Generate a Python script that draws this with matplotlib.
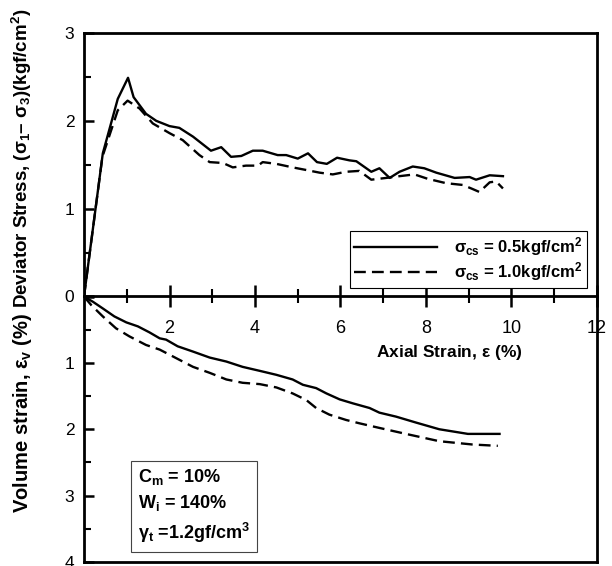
import matplotlib
matplotlib.use("Agg")
import matplotlib.pyplot as plt
import numpy as np

plt.rcParams['font.family'] = ['Liberation Sans', 'DejaVu Sans']
plt.rcParams['mathtext.fontset'] = 'custom'
plt.rcParams['mathtext.rm'] = 'Liberation Sans:bold'
plt.rcParams['mathtext.it'] = 'Liberation Sans:bold'
plt.rcParams['mathtext.bf'] = 'Liberation Sans:bold'
plt.rcParams['mathtext.sf'] = 'Liberation Sans:bold'

# ---- data: deviator stress (kgf/cm2) vs axial strain (%) ----
dev_x_05 = [0.0, 0.44, 0.79, 1.03, 1.16, 1.45, 1.69, 2.0, 2.23, 2.55, 2.97, 3.21, 3.44, 3.68,
            3.95, 4.18, 4.53, 4.73, 5.0, 5.24, 5.45, 5.68, 5.92, 6.21, 6.37, 6.72, 6.91, 7.15,
            7.38, 7.69, 7.96, 8.24, 8.67, 9.02, 9.17, 9.49, 9.80]
dev_y_05 = [0.0, 1.63, 2.25, 2.49, 2.27, 2.08, 2.00, 1.94, 1.92, 1.82, 1.66, 1.70, 1.59, 1.60,
            1.66, 1.66, 1.61, 1.61, 1.57, 1.63, 1.53, 1.51, 1.58, 1.55, 1.54, 1.42, 1.46, 1.35,
            1.42, 1.48, 1.46, 1.41, 1.35, 1.36, 1.33, 1.38, 1.37]

dev_x_10 = [0.0, 0.43, 0.79, 1.02, 1.30, 1.61, 2.0, 2.31, 2.70, 2.94, 3.25, 3.48, 3.79, 4.07,
            4.18, 4.50, 4.88, 5.20, 5.51, 5.82, 6.13, 6.44, 6.72, 7.07, 7.38, 7.73, 8.04, 8.47,
            8.86, 9.06, 9.25, 9.49, 9.64, 9.80]
dev_y_10 = [0.0, 1.59, 2.12, 2.23, 2.14, 1.97, 1.86, 1.78, 1.61, 1.53, 1.52, 1.47, 1.49, 1.49,
            1.53, 1.51, 1.47, 1.44, 1.41, 1.39, 1.42, 1.43, 1.33, 1.35, 1.37, 1.39, 1.34, 1.29,
            1.27, 1.23, 1.19, 1.30, 1.31, 1.23]

# ---- data: volume strain (%) vs axial strain (%) ----
vol_x_05 = [0.0, 0.21, 0.44, 0.71, 0.99, 1.26, 1.53, 1.77, 1.92, 2.19, 2.55, 2.94, 3.33, 3.71,
            4.11, 4.50, 4.88, 5.12, 5.43, 5.67, 5.98, 6.29, 6.68, 6.91, 7.30, 7.77, 8.31, 8.98, 9.72]
vol_y_05 = [0.0, 0.08, 0.18, 0.30, 0.39, 0.45, 0.54, 0.63, 0.65, 0.75, 0.83, 0.92, 0.98, 1.06,
            1.12, 1.18, 1.25, 1.33, 1.38, 1.46, 1.55, 1.61, 1.68, 1.75, 1.81, 1.90, 2.00, 2.07, 2.07]

vol_x_10 = [0.0, 0.17, 0.44, 0.75, 1.06, 1.45, 1.77, 2.16, 2.55, 2.94, 3.33, 3.71, 4.11, 4.50,
            4.88, 5.20, 5.43, 5.74, 6.13, 6.44, 6.91, 7.53, 8.31, 9.09, 9.68]
vol_y_10 = [0.0, 0.13, 0.30, 0.48, 0.60, 0.73, 0.80, 0.93, 1.06, 1.15, 1.25, 1.30, 1.32, 1.37,
            1.46, 1.56, 1.68, 1.78, 1.86, 1.91, 1.98, 2.07, 2.18, 2.23, 2.25]

legend_labels = [r"$\sigma_{cs}$ = 0.5kgf/cm$^2$", r"$\sigma_{cs}$ = 1.0kgf/cm$^2$"]
x_ticks = [2, 4, 6, 8, 10, 12]
top_yticks = [0, 1, 2, 3]
bot_yticks = [0, 1, 2, 3, 4]

fig = plt.figure(figsize=(6.12, 5.66), dpi=100)
L, R = 84 / 612, 597 / 612
mid = 1 - 296.5 / 566
top = 1 - 33 / 566
bot = 1 - 562 / 566
ax1 = fig.add_axes([L, mid, R - L, top - mid])
ax2 = fig.add_axes([L, bot, R - L, mid - bot])
ax2.patch.set_alpha(0)

lw = 1.7
dash = (5.0, 2.6)
ax1.plot(dev_x_05, dev_y_05, color='black', lw=lw, label=legend_labels[0])
ax1.plot(dev_x_10, dev_y_10, color='black', lw=lw, dashes=dash, label=legend_labels[1])
ax2.plot(vol_x_05, vol_y_05, color='black', lw=lw)
ax2.plot(vol_x_10, vol_y_10, color='black', lw=lw, dashes=dash)

for ax in (ax1, ax2):
    ax.set_xlim(0, 12)
    for s in ax.spines.values():
        s.set_linewidth(2.0)

ax1.set_ylim(0, 3)
ax2.set_ylim(4, 0)

# top axes: y ticks and middle x axis ticks
ax1.set_yticks(top_yticks)
ax1.set_yticklabels(['', '1', '2', '3'])
ax1.set_yticks([0.5, 1.5, 2.5], minor=True)
ax1.tick_params(axis='y', which='major', direction='in', length=7, width=1.8,
                labelsize=12.5, pad=7, right=False)
ax1.tick_params(axis='y', which='minor', direction='in', length=5, width=1.5, right=False)
ax1.set_xticks(x_ticks)
ax1.set_xticklabels([str(v) for v in x_ticks])
ax1.set_xticks([1, 3, 5, 7, 9, 11], minor=True)
ax1.tick_params(axis='x', which='major', direction='inout', length=16, width=1.8,
                labelsize=13, pad=9, top=False)
ax1.tick_params(axis='x', which='minor', direction='inout', length=10, width=1.5, top=False)

ax2.set_yticks(bot_yticks)
ax2.set_yticklabels([str(v) for v in bot_yticks])
ax2.set_yticks([0.5, 1.5, 2.5, 3.5], minor=True)
ax2.tick_params(axis='y', which='major', direction='in', length=7, width=1.8,
                labelsize=12.5, pad=7, right=False)
ax2.tick_params(axis='y', which='minor', direction='in', length=5, width=1.5, right=False)
ax2.set_xticks([])
ax2.spines['top'].set_visible(False)
ax1.set_zorder(3)
ax1.patch.set_alpha(0)

# x label inside lower panel
ax2.text(8.55, 0.85, r"Axial Strain, $\epsilon$ (%)", ha='center', va='center',
         fontsize=12.5, fontweight='bold')

# y labels
fig.text(22 / 612, 1 - 158 / 566,
         r"Deviator Stress, ($\sigma_1$– $\sigma_3$)(kgf/cm$^2$)",
         rotation=90, ha='center', va='center', fontsize=13.5, fontweight='bold')
fig.text(23 / 612, 1 - 413 / 566, r"Volume strain, $\epsilon_v$ (%)",
         rotation=90, ha='center', va='center', fontsize=14.5, fontweight='bold')

leg = ax1.legend(loc='lower right', bbox_to_anchor=(0.98, 0.034), borderaxespad=0,
                 fancybox=False, edgecolor='black', framealpha=1,
                 prop={'weight': 'bold', 'size': 12}, handlelength=5.0,
                 handletextpad=1.0, borderpad=0.25, labelspacing=0.15)
leg.get_frame().set_linewidth(0.8)

ax2.text(0.105, 0.065,
         "C$_m$ = 10%\nW$_i$ = 140%\n$\\gamma_t$ =1.2gf/cm$^3$",
         transform=ax2.transAxes, ha='left', va='bottom', fontsize=13,
         fontweight='bold', linespacing=1.4,
         bbox=dict(boxstyle='square,pad=0.4', facecolor='white',
                   edgecolor='#444444', linewidth=0.8))

fig.savefig('out.png', dpi=100)
